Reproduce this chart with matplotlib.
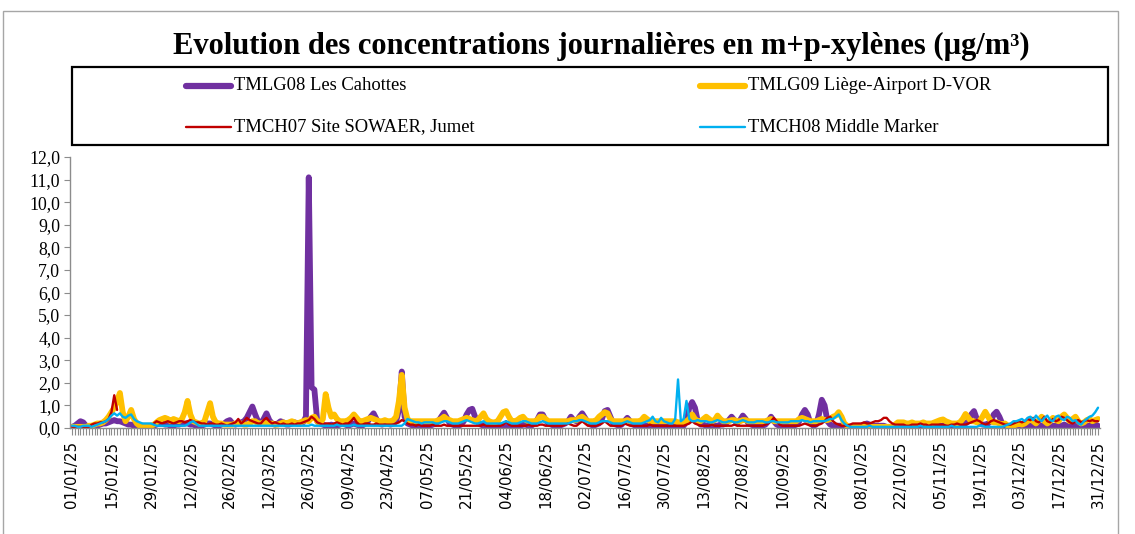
import numpy as np
import pandas as pd
import matplotlib
matplotlib.use("Agg")
import matplotlib.pyplot as plt
from matplotlib.lines import Line2D
from matplotlib.patches import Rectangle

nan = np.nan

title = "Evolution des concentrations journalières en m+p-xylènes (µg/m³)"
series_names = ["TMLG08 Les Cahottes", "TMLG09 Liège-Airport D-VOR",
                "TMCH07 Site SOWAER, Jumet", "TMCH08 Middle Marker"]
dates = pd.date_range("2025-01-01", "2025-12-31", freq="D")

# daily values (µg/m³), rows of 14 days
tmlg08 = [
    0.05,0.1,0.2,0.3,0.25,0.1,0.05,0.05,0.1,0.1,0.15,0.2,0.2,0.25,
    0.3,0.35,0.3,0.3,0.25,0.2,0.15,0.15,0.1,0.1,0.1,0.1,0.05,0.05,
    0.05,0.1,0.15,0.2,0.2,0.15,0.15,0.1,0.1,0.15,0.15,0.2,0.2,0.2,
    0.15,0.15,0.1,0.1,0.1,0.15,0.2,0.2,0.15,0.1,0.1,0.15,0.2,0.3,
    0.35,0.2,0.15,0.2,0.25,0.3,0.45,0.7,0.95,0.6,0.3,0.2,0.4,0.65,
    0.35,0.2,0.15,0.2,0.3,0.25,0.15,0.15,0.2,0.25,0.2,0.2,0.25,0.5,
    11.1,1.8,1.7,0.3,0.2,0.15,0.1,0.1,0.15,0.1,0.1,0.15,0.2,0.15,
    0.1,0.15,0.2,0.15,0.1,0.1,0.2,0.3,0.5,0.65,0.4,0.2,0.15,0.2,
    0.2,0.15,0.2,0.3,0.8,2.5,0.5,0.2,0.15,0.1,0.1,0.1,0.1,0.1,
    0.1,0.1,0.15,0.2,0.3,0.5,0.68,0.45,0.2,0.15,0.1,0.1,0.15,0.3,
    0.6,0.8,0.85,0.5,0.25,0.15,0.1,0.15,0.1,0.1,0.1,0.15,0.1,0.1,
    0.1,0.15,0.1,0.1,0.1,0.1,0.15,0.15,0.1,0.1,0.2,0.35,0.6,0.6,
    0.35,0.2,0.15,0.1,0.1,0.1,0.15,0.2,0.3,0.5,0.35,0.3,0.5,0.65,
    0.45,0.25,0.15,0.1,0.15,0.2,0.4,0.75,0.8,0.5,0.2,0.15,0.1,0.15,
    0.3,0.45,0.3,0.15,0.1,0.1,0.1,0.1,0.1,0.1,0.1,0.1,0.15,0.1,
    0.1,0.1,0.1,0.05,0.05,0.1,0.1,0.1,0.3,0.9,1.15,0.9,0.3,0.15,
    0.15,0.1,0.1,0.15,0.1,0.1,0.15,0.15,0.2,0.35,0.5,0.35,0.2,0.35,
    0.55,0.4,0.2,0.15,0.1,0.1,0.1,0.1,0.15,0.3,0.5,0.3,0.15,0.1,
    0.1,0.1,0.1,0.1,0.1,0.15,0.3,0.6,0.8,0.6,0.2,0.1,0.15,0.6,
    1.25,1.0,0.3,0.15,0.1,0.1,0.1,0.1,0.1,0.05,0.05,0.05,0.05,0.05,
    0.1,0.15,0.2,0.15,0.1,0.1,0.1,0.1,0.1,0.05,0.05,0.05,0.05,0.05,
    0.05,0.05,0.05,0.05,0.05,0.05,0.05,0.05,0.05,0.05,0.05,0.05,0.05,0.1,
    0.1,0.1,0.1,0.1,0.1,0.1,0.1,0.1,0.15,0.2,0.3,0.6,0.75,0.4,
    0.2,0.15,0.15,0.2,0.3,0.6,0.72,0.5,0.2,0.1,0.1,0.1,0.05,0.05,
    0.05,0.05,0.05,0.1,0.1,0.1,0.1,0.1,0.1,0.15,0.1,0.1,0.1,0.1,
    0.1,0.1,0.15,0.1,0.1,0.1,0.1,0.1,0.15,0.1,0.1,0.1,0.1,0.15,
    0.1,
]

tmlg09 = [
    0.05,0.05,0.05,0.05,0.05,0.05,0.1,0.1,0.15,0.2,0.2,0.25,0.35,0.5,
    0.7,0.9,1.2,1.55,0.7,0.3,0.5,0.8,0.4,0.2,0.1,0.1,0.1,0.1,
    0.1,0.15,0.25,0.35,0.4,0.45,0.4,0.3,0.4,0.35,0.3,0.4,0.7,1.2,
    0.6,0.3,0.25,0.2,0.2,0.3,0.7,1.1,0.5,0.25,0.2,0.2,0.15,0.15,
    0.15,0.15,0.2,0.2,0.2,0.15,0.15,0.2,0.3,0.3,0.2,0.2,0.25,0.2,
    0.2,0.2,0.15,0.15,0.2,0.25,0.2,0.25,0.3,0.25,0.2,0.25,0.3,0.35,
    0.3,0.45,0.5,0.3,0.2,0.4,1.5,0.9,0.5,0.6,0.4,0.3,0.3,0.3,
    0.35,0.45,0.6,0.45,0.3,0.3,0.35,0.4,0.45,0.4,0.35,0.3,0.3,0.35,
    0.3,0.3,0.35,0.5,1.2,2.35,0.9,0.4,0.3,0.3,0.3,0.3,0.3,0.3,
    0.3,0.3,0.3,0.3,0.35,0.4,0.5,0.4,0.35,0.3,0.3,0.3,0.35,0.4,
    0.45,0.4,0.35,0.3,0.35,0.5,0.65,0.4,0.3,0.25,0.25,0.3,0.5,0.7,
    0.75,0.5,0.3,0.3,0.35,0.45,0.5,0.35,0.3,0.3,0.3,0.35,0.5,0.5,
    0.4,0.3,0.3,0.3,0.3,0.3,0.3,0.3,0.3,0.35,0.35,0.35,0.45,0.5,
    0.4,0.3,0.3,0.3,0.35,0.5,0.6,0.7,0.65,0.4,0.3,0.3,0.3,0.3,
    0.3,0.35,0.3,0.3,0.3,0.3,0.35,0.5,0.4,0.3,0.3,0.3,0.3,0.3,
    0.3,0.3,0.3,0.3,0.3,0.25,0.25,0.25,0.3,0.4,0.6,0.4,0.3,0.3,
    0.4,0.5,0.4,0.3,0.35,0.55,0.4,0.3,0.3,0.3,0.35,0.35,0.3,0.3,
    0.35,0.35,0.3,0.3,0.3,0.3,0.3,0.3,0.3,0.35,0.4,0.3,0.3,0.3,
    0.3,0.3,0.3,0.3,0.3,0.3,0.4,0.45,0.4,0.35,0.3,0.3,0.3,0.35,
    0.4,0.35,0.35,0.4,0.5,0.55,0.7,0.5,0.2,0.1,0.05,0.05,0.05,0.05,
    0.05,0.05,0.05,0.05,0.05,0.05,0.05,0.05,0.05,0.05,0.05,0.05,0.15,0.25,
    0.25,0.25,0.2,0.2,0.25,0.2,0.2,0.2,0.25,0.2,0.2,0.2,0.25,0.3,
    0.35,0.38,0.3,0.25,0.2,0.2,0.2,0.25,0.4,0.62,0.45,0.3,0.3,0.25,
    0.3,0.5,0.72,0.5,0.3,0.25,0.25,0.2,0.15,0.2,0.1,0.1,0.1,0.15,
    0.2,0.15,0.2,0.3,0.4,0.3,0.2,0.35,0.5,0.3,0.2,0.3,0.45,0.35,
    0.3,0.5,0.6,0.45,0.3,0.4,0.5,0.3,0.2,0.25,0.35,0.4,0.3,0.35,
    0.4,
]

tmch07 = [
    0.05,0.05,0.05,0.05,0.05,0.05,0.05,0.15,0.2,0.2,0.25,0.25,0.3,0.4,
    0.7,1.45,0.8,nan,nan,nan,nan,nan,nan,nan,nan,nan,nan,nan,
    nan,0.2,0.3,0.25,0.2,0.25,0.3,0.25,0.2,0.25,0.3,0.3,0.25,0.3,
    0.35,0.3,0.25,0.25,0.2,0.2,0.15,0.2,0.2,0.15,0.15,0.2,0.15,0.1,
    0.15,0.2,0.25,0.4,0.2,0.3,0.45,0.35,0.3,0.25,0.2,0.2,0.35,0.45,
    0.3,0.2,0.25,0.2,0.15,0.2,0.15,0.15,0.2,0.15,0.2,0.2,0.25,0.3,
    0.35,0.5,0.4,0.25,0.2,0.15,0.2,0.2,0.15,0.2,0.25,0.2,0.15,0.2,
    0.2,0.3,0.45,0.25,0.15,0.15,0.2,0.2,0.15,0.15,0.2,0.15,0.15,0.15,
    0.15,0.15,0.15,0.2,0.25,0.35,0.3,0.2,0.15,0.15,0.1,0.15,0.1,0.1,
    0.1,0.1,0.15,0.1,0.1,0.1,0.15,0.1,0.1,0.1,0.1,0.1,0.1,0.1,
    0.1,0.1,0.1,0.1,0.1,0.1,0.15,0.1,0.1,0.1,0.1,0.1,0.1,0.15,
    0.3,0.15,0.1,0.1,0.1,0.1,0.1,0.1,0.15,0.1,0.1,0.1,0.15,0.15,
    0.1,0.1,0.1,0.1,0.1,0.1,0.1,0.15,0.2,0.15,0.1,0.1,0.2,0.3,
    0.2,0.1,0.1,0.1,0.1,0.15,0.2,0.3,0.2,0.1,0.1,0.1,0.1,0.1,
    0.2,0.15,0.1,0.1,0.1,0.1,0.1,0.1,0.1,0.15,0.1,0.1,0.1,0.1,
    0.1,0.1,0.1,0.1,0.1,0.1,0.1,0.1,0.15,0.2,0.3,0.2,0.15,0.1,
    0.1,0.1,0.1,0.15,0.1,0.1,0.1,0.1,0.1,0.1,0.1,0.15,0.1,0.1,
    0.1,0.1,0.1,0.1,0.1,0.1,0.1,0.1,0.15,0.2,0.3,0.45,0.3,0.15,
    0.1,0.1,0.1,0.1,0.1,0.1,0.1,0.15,0.2,0.15,0.1,0.1,0.1,0.15,
    0.2,0.3,0.45,0.5,0.3,0.2,0.15,0.1,0.1,0.1,0.15,0.2,0.2,0.2,
    0.2,0.25,0.2,0.2,0.25,0.3,0.3,0.35,0.45,0.45,0.3,0.2,0.15,0.15,
    0.15,0.15,0.1,0.1,0.15,0.15,0.15,0.2,0.15,0.15,0.1,0.15,0.15,0.15,
    0.15,0.15,0.1,0.1,0.15,0.15,0.2,0.15,0.15,0.15,0.2,0.25,0.3,0.35,
    0.3,0.2,0.15,0.2,0.3,0.35,0.3,0.25,0.2,0.15,0.15,0.15,0.2,0.25,
    0.3,0.25,0.3,0.4,0.35,0.45,0.3,0.25,0.35,0.5,0.3,0.25,0.4,0.3,
    0.35,0.5,0.45,0.35,0.25,0.2,0.3,0.35,0.25,0.3,0.35,0.3,0.35,0.3,
    0.3,
]

tmch08 = [
    0.1,0.1,0.05,0.05,0.1,0.1,0.1,0.05,0.1,0.15,0.2,0.25,0.3,0.4,
    0.55,0.65,0.55,0.65,0.5,0.45,0.55,0.6,0.4,0.3,0.25,0.2,0.2,0.2,
    0.2,0.15,0.1,0.1,0.1,0.1,0.1,0.1,0.1,0.1,0.1,0.1,0.1,0.15,
    0.25,0.3,0.2,0.1,0.1,0.1,0.1,0.1,0.1,0.1,0.1,0.1,0.1,0.1,
    0.1,0.1,0.1,0.1,0.1,0.1,0.1,0.1,0.1,0.1,0.1,0.1,0.1,0.1,
    0.1,0.1,0.1,0.1,0.1,0.1,0.1,0.1,0.1,0.1,0.1,0.1,0.1,0.1,
    0.1,0.15,0.1,0.1,0.1,0.1,0.1,0.1,0.1,0.1,0.15,0.1,0.1,0.1,
    0.1,0.1,0.15,0.1,0.1,0.1,0.1,0.1,0.1,0.1,0.1,0.1,0.1,0.1,
    0.1,0.1,0.1,0.1,0.1,0.1,0.2,0.4,0.35,0.3,0.25,0.25,0.2,0.25,
    0.25,0.25,0.25,0.2,0.2,0.25,0.3,0.3,0.25,0.2,0.2,0.2,0.25,0.3,
    0.35,0.3,0.25,0.2,0.2,0.25,0.3,0.2,0.2,0.2,0.2,0.2,0.2,0.25,
    0.3,0.25,0.2,0.2,0.2,0.25,0.3,0.3,0.25,0.2,0.2,0.2,0.25,0.3,
    0.25,0.2,0.2,0.2,0.2,0.2,0.2,0.2,0.2,0.25,0.3,0.3,0.35,0.35,
    0.3,0.25,0.2,0.2,0.2,0.25,0.3,0.3,0.3,0.25,0.2,0.2,0.2,0.2,
    0.25,0.3,0.25,0.2,0.2,0.2,0.2,0.25,0.3,0.35,0.5,0.3,0.25,0.45,
    0.3,0.25,0.2,0.2,0.4,2.15,0.3,0.4,1.2,0.4,0.3,0.3,0.35,0.3,
    0.3,0.3,0.25,0.25,0.3,0.35,0.3,0.25,0.25,0.3,0.3,0.25,0.25,0.3,
    0.35,0.3,0.25,0.25,0.25,0.3,0.3,0.3,0.25,0.25,0.3,0.3,0.25,0.25,
    0.25,0.25,0.25,0.3,0.3,0.3,0.3,0.35,0.3,0.3,0.25,0.3,0.3,0.3,
    0.3,0.3,0.35,0.4,0.4,0.5,0.6,0.35,0.2,0.1,0.05,0.05,0.05,0.05,
    0.05,0.05,0.05,0.1,0.05,0.05,0.05,0.05,0.05,0.05,0.05,0.05,0.05,0.05,
    0.05,0.05,0.05,0.05,0.05,0.05,0.05,0.1,0.05,0.05,0.05,0.05,0.05,0.05,
    0.05,0.05,0.05,0.05,0.1,0.05,0.05,0.05,0.05,0.05,0.05,0.05,0.05,0.05,
    0.1,0.1,0.05,0.05,0.05,0.05,0.05,0.05,0.05,0.1,0.15,0.2,0.3,0.3,
    0.35,0.4,0.3,0.45,0.5,0.35,0.55,0.4,0.3,0.45,0.55,0.35,0.3,0.5,
    0.55,0.4,0.35,0.5,0.45,0.3,0.35,0.2,0.15,0.3,0.4,0.5,0.55,0.7,
    0.9,
]

colors = ["#7030A0", "#FFC000", "#C00000", "#00B0F0"]
widths = [4.2, 4.2, 1.7, 1.7]
leg_widths = [4.5, 4.5, 1.7, 1.7]

W, H = 1135, 534
fig = plt.figure(figsize=(W / 100, H / 100), dpi=100)

def fx(px):
    return px / W

def fy(py):
    return 1 - py / H

# outer frame
fig.add_artist(Rectangle((fx(3), fy(560)), fx(1118 - 3), (557 - 8) / H,
                         fill=False, edgecolor="#A6A6A6", linewidth=1.0,
                         transform=fig.transFigure))

ax = fig.add_axes([fx(70), fy(428), fx(1100 - 70), (428 - 157) / H])
x = np.arange(len(dates))
for vals, c, lw in zip([tmlg08, tmlg09, tmch07, tmch08], colors, widths):
    ax.plot(x, vals, color=c, lw=lw, solid_joinstyle="round",
            solid_capstyle="round")

ax.set_xlim(-0.7, len(dates) - 1 + 0.7)
ax.set_ylim(0, 12)
ax.set_yticks(np.arange(0, 13, 1))
ax.set_yticklabels([f"{v:.1f}".replace(".", ",") for v in range(13)],
                   fontfamily="Liberation Serif", fontsize=12.8)
major = np.arange(0, len(dates), 14)
ax.set_xticks(major)
ax.set_xticklabels([dates[i].strftime("%d/%m/%y") for i in major],
                   rotation=90, fontfamily="DejaVu Sans", fontsize=10.8)
ax.set_xticks(x, minor=True)
ax.tick_params(axis="x", which="both", length=5, width=0.8, color="#8C8C8C",
               direction="out", pad=4)
ax.tick_params(axis="y", length=4, width=0.8, color="#8C8C8C", pad=3)
for s in ["top", "right"]:
    ax.spines[s].set_visible(False)
for s in ["left", "bottom"]:
    ax.spines[s].set_color("#8C8C8C")
    ax.spines[s].set_linewidth(1.0)

fig.text(fx(601), fy(46), title, ha="center", va="center",
         fontfamily="Liberation Serif", fontweight="bold", fontsize=22)

# legend box
fig.add_artist(Rectangle((fx(72), fy(145)), fx(1108 - 72), (145 - 67) / H,
                         fill=False, edgecolor="black", linewidth=1.6,
                         transform=fig.transFigure))
leg_pos = [(186, 86), (700, 86), (186, 127), (700, 127)]
for (lx, ly), name, c, lw in zip(leg_pos, series_names, colors, leg_widths):
    fig.add_artist(Line2D([fx(lx), fx(lx + 45)], [fy(ly), fy(ly)], color=c,
                          lw=lw, solid_capstyle="round",
                          transform=fig.transFigure))
    fig.text(fx(lx + 48), fy(ly), name, ha="left", va="center",
             fontfamily="Liberation Serif", fontsize=13.4)

fig.savefig("out.png", dpi=100)
